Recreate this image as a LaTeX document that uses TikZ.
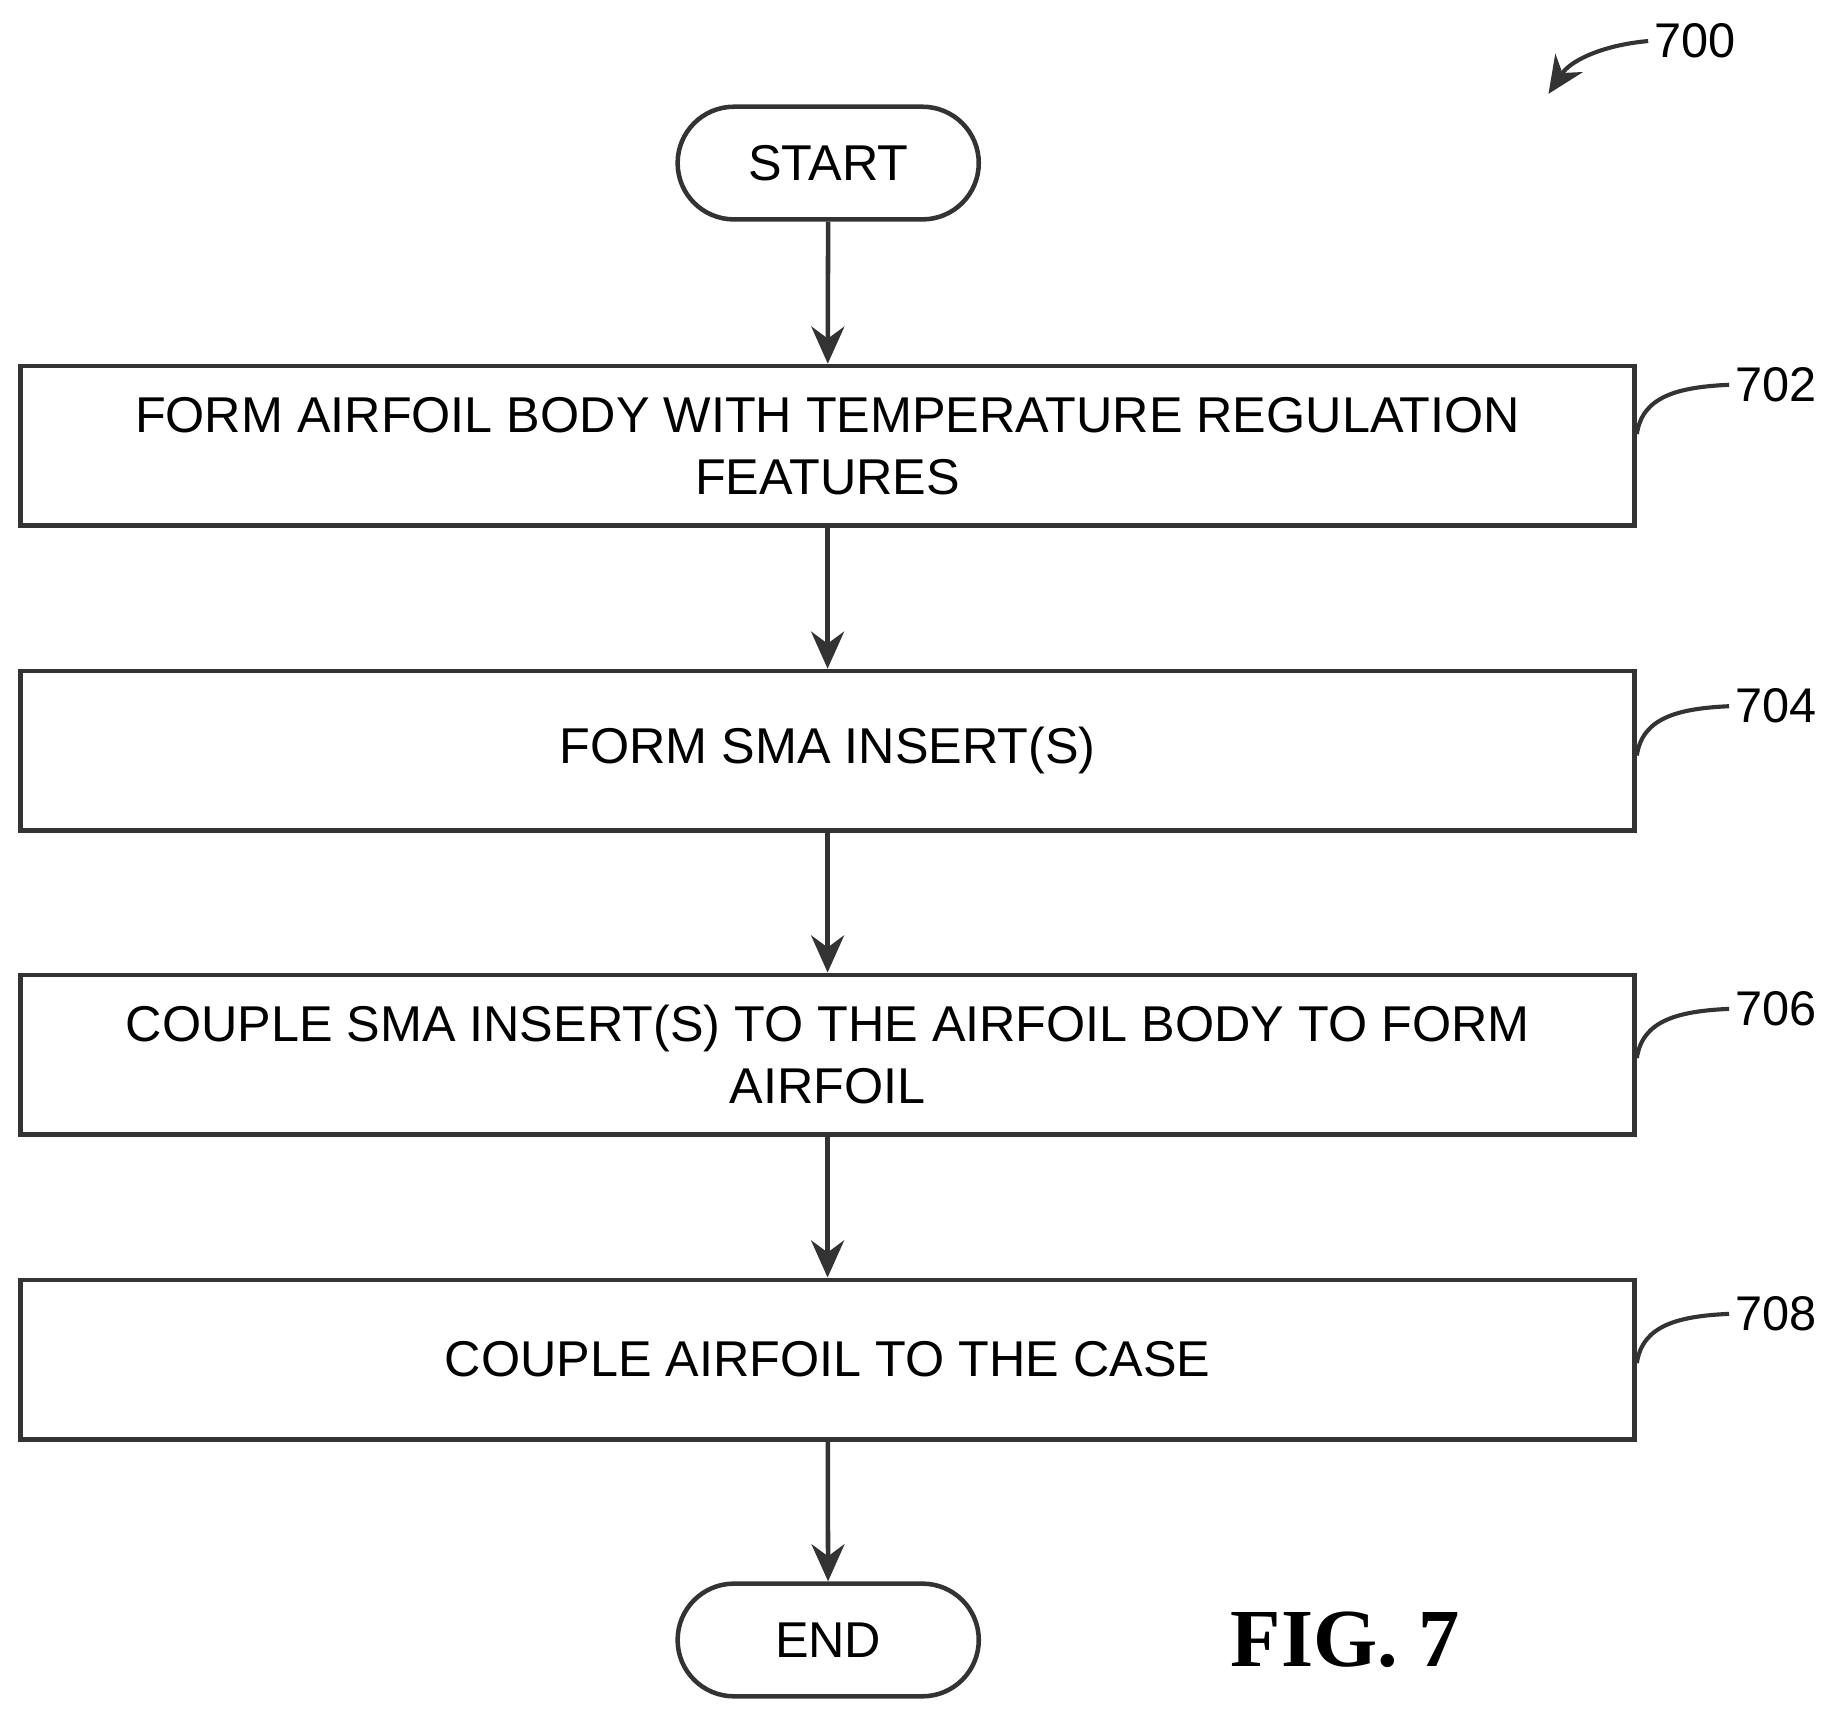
\documentclass[tikz,border=0pt]{standalone}
\usepackage{fontspec}
\setmainfont{Liberation Sans}
\newfontfamily\figfont{Liberation Serif}
\usetikzlibrary{arrows.meta,shapes.misc}
\begin{document}
\begin{tikzpicture}[x=0.01cm,y=-0.01cm,
  line width=1.1pt, draw=black!80,
  box/.style={draw=black!80, minimum width=13.75cm, minimum height=1.36cm, align=center, font=\fontsize{12.2}{15}\selectfont, inner sep=0pt},
  term/.style={draw=black!80, rounded rectangle, minimum width=2.8cm, minimum height=0.96cm, font=\fontsize{12.2}{15}\selectfont},
  arr/.style={-{Stealth[length=9pt,width=8pt]}, black!80},
  lead/.style={black!80, line width=1pt},
  ref/.style={font=\fontsize{11.8}{14}\selectfont, anchor=west, inner sep=1pt}]
\useasboundingbox (0,0) rectangle (1560,1460);
\node[term] (s) at (706,139) {START};
\node[box] (b2) at (705.5,380) {FORM AIRFOIL BODY WITH TEMPERATURE REGULATION\\FEATURES};
\node[box] (b4) at (705.5,640) {FORM SMA INSERT(S)};
\node[box] (b6) at (705.5,899) {COUPLE SMA INSERT(S) TO THE AIRFOIL BODY TO FORM\\AIRFOIL};
\node[box] (b8) at (705.5,1159) {COUPLE AIRFOIL TO THE CASE};
\node[term] (e) at (706,1398) {END};
\draw[arr] (s) -- (b2);
\draw[arr] (b2) -- (b4);
\draw[arr] (b4) -- (b6);
\draw[arr] (b6) -- (b8);
\draw[arr] (b8) -- (e);
\foreach \n/\y/\t in {b2/328/702,b4/602/704,b6/860/706,b8/1120/708}{
  \node[ref] (l\t) at (1474,\y) {\t};
  \draw[lead] (\n.east |- 0,\y+42) .. controls (1400,\y+10) and (1430,\y+2) .. (l\t.west);
}
\node[ref] (l700) at (1405,35) {700};
\coordinate (a700) at (1320,80);
\draw[lead,-{Stealth[length=9pt,width=8pt]}] (l700.west) .. controls (1370,38) and (1340,50) .. (a700);
\node[font=\figfont\bfseries\fontsize{20}{22}\selectfont] (fig) at (1147,1398) {FIG. 7};
\end{tikzpicture}
\end{document}
